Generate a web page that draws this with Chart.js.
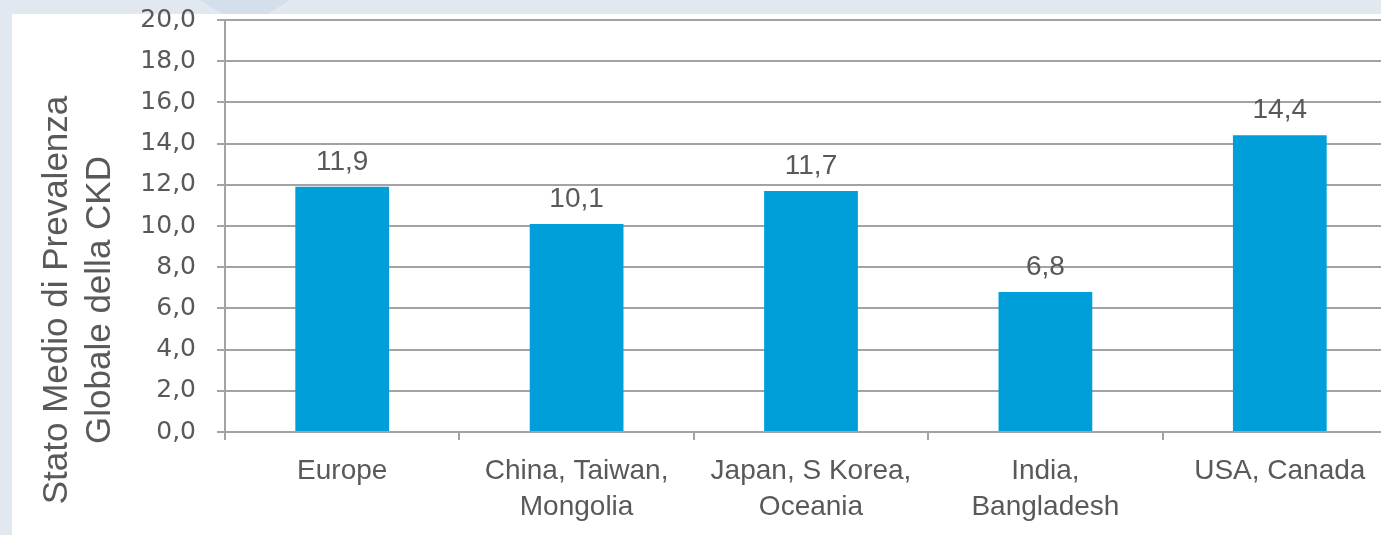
<!DOCTYPE html>
<html>
<head>
<meta charset="utf-8">
<script src="https://cdn.jsdelivr.net/npm/chart.js@4.4.1/dist/chart.umd.min.js"></script>
<style>
  html, body { margin: 0; padding: 0; width: 1381px; height: 535px; overflow: hidden; background: #e1e8ef; }
  #panel { position: absolute; left: 12px; top: 14px; right: 0; bottom: 0; background: #ffffff; }
  #deco { position: absolute; left: 200px; top: 0; width: 90px; height: 14px; background: #d3dfeb; clip-path: polygon(0 0, 100% 0, 75% 100%, 25% 100%); }
  #wrap { position: absolute; left: 0; top: 0; width: 1400px; height: 535px; }
</style>
</head>
<body>
<div id="deco"></div>
<div id="panel"></div>
<div id="wrap"><canvas id="myChart"></canvas></div>
<script>
// data
const regions = [
  ['Europe'],
  ['China, Taiwan,', 'Mongolia'],
  ['Japan, S Korea,', 'Oceania'],
  ['India,', 'Bangladesh'],
  ['USA, Canada']
];
const prevalence = [11.9, 10.1, 11.7, 6.8, 14.4];
const yTitleLines = ['Stato Medio di Prevalenza', 'Globale della CKD'];
const yMin = 0;
const yMax = 20;
const yStep = 2;

const gridGrey = '#a3a3a3';
const textGrey = '#595959';

//comma as decimal separator
function fmt(v) {
  return Number(v).toFixed(1).replace('.', ',');
}

//value above every bar
const barValues = {
  id: 'barValues',
  afterDatasetsDraw(chart) {
    const ctx = chart.ctx;
    const meta = chart.getDatasetMeta(0);
    ctx.save();
    ctx.font = '28px "Liberation Sans", Arial, sans-serif';
    ctx.fillStyle = textGrey;
    ctx.textAlign = 'center';
    ctx.textBaseline = 'alphabetic';
    meta.data.forEach((bar, i) => {
      ctx.fillText(fmt(chart.data.datasets[0].data[i]), bar.x, bar.y - 17);
    });
    ctx.restore();
  }
};

//two line rotated y title, sits lower than the axis middle
const yTitle = {
  id: 'yTitle',
  afterDraw(chart) {
    const ctx = chart.ctx;
    const baselines = [67, 110];
    ctx.save();
    ctx.font = '35px "Liberation Sans", Arial, sans-serif';
    ctx.fillStyle = textGrey;
    ctx.textAlign = 'center';
    ctx.textBaseline = 'alphabetic';
    yTitleLines.forEach((line, i) => {
      ctx.save();
      ctx.translate(baselines[i], 300);
      ctx.rotate(-Math.PI / 2);
      ctx.fillText(line, 0, 0);
      ctx.restore();
    });
    ctx.restore();
  }
};

const ctx = document.getElementById('myChart');
new Chart(ctx, {
  type: 'bar',
  data: {
    labels: regions,
    datasets: [{
      data: prevalence,
      backgroundColor: '#009fd9',
      borderWidth: 0,
      categoryPercentage: 1,
      barPercentage: 0.4
    }]
  },
  options: {
    responsive: true,
    maintainAspectRatio: false,
    animation: false,
    layout: { padding: { top: 20, left: 0, right: 3, bottom: 0 } },
    plugins: {
      legend: { display: false },
      tooltip: { enabled: false }
    },
    scales: {
      x: {
        afterFit(scale) {
          scale.height = 103;
          scale.paddingLeft = 0;
          scale.paddingRight = 0;
        },
        border: { color: gridGrey, width: 2 },
        grid: { drawOnChartArea: false, tickLength: 8, color: gridGrey, lineWidth: 2 },
        ticks: {
          color: textGrey,
          padding: 13,
          maxRotation: 0,
          autoSkip: false,
          font: { family: '"Liberation Sans", Arial, sans-serif', size: 28, lineHeight: 1.29 }
        }
      },
      y: {
        min: yMin,
        max: yMax,
        afterFit(scale) {
          scale.width = 225;
          scale.paddingTop = 0;
          scale.paddingBottom = 0;
        },
        border: { color: gridGrey, width: 2 },
        grid: { color: gridGrey, lineWidth: 2, tickLength: 8 },
        ticks: {
          stepSize: yStep,
          color: textGrey,
          padding: 21,
          font: { family: '"DejaVu Sans", sans-serif', size: 25 },
          callback: (v) => fmt(v)
        }
      }
    }
  },
  plugins: [barValues, yTitle]
});
</script>
</body>
</html>
